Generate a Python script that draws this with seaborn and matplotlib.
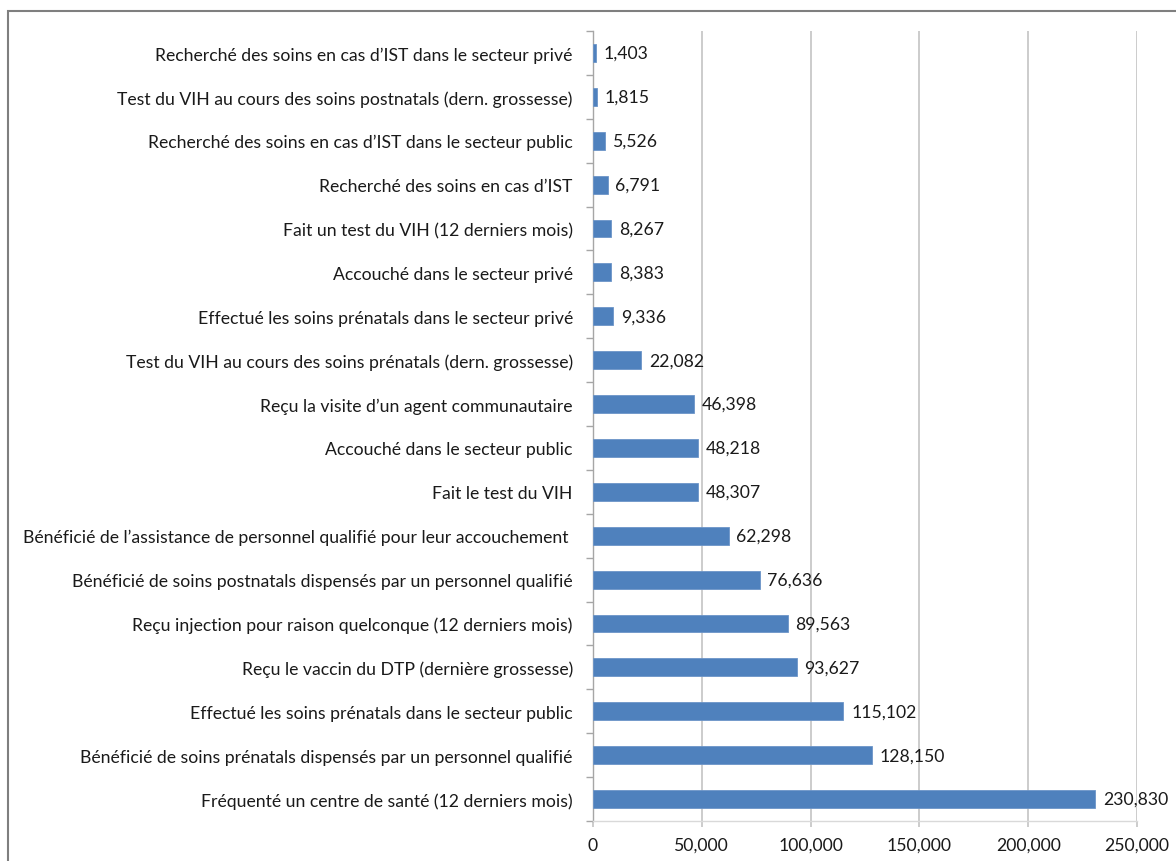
import matplotlib
matplotlib.use("Agg")
import matplotlib.pyplot as plt
from matplotlib.patches import Rectangle
from matplotlib.ticker import FuncFormatter, FixedLocator
import seaborn as sns
import pandas as pd
import numpy as np

categories = [
    "Recherché des soins en cas d’IST dans le secteur privé",
    "Test du VIH au cours des soins postnatals (dern. grossesse)",
    "Recherché des soins en cas d’IST dans le secteur public",
    "Recherché des soins en cas d’IST",
    "Fait un test du VIH (12 derniers mois)",
    "Accouché dans le secteur privé",
    "Effectué les soins prénatals dans le secteur privé",
    "Test du VIH au cours des soins prénatals (dern. grossesse)",
    "Reçu la visite d’un agent communautaire",
    "Accouché dans le secteur public",
    "Fait le test du VIH",
    "Bénéficié de l’assistance de personnel qualifié pour leur accouchement ",
    "Bénéficié de soins postnatals dispensés par un personnel qualifié",
    "Reçu injection pour raison quelconque (12 derniers mois)",
    "Reçu le vaccin du DTP (dernière grossesse)",
    "Effectué les soins prénatals dans le secteur public",
    "Bénéficié de soins prénatals dispensés par un personnel qualifié",
    "Fréquenté un centre de santé (12 derniers mois)",
]
values = [1403, 1815, 5526, 6791, 8267, 8383, 9336, 22082, 46398, 48218,
          48307, 62298, 76636, 89563, 93627, 115102, 128150, 230830]
x_ticks = [0, 50000, 100000, 150000, 200000, 250000]

df = pd.DataFrame({"categorie": categories, "valeur": values})

sns.set_theme(style="white")
plt.rcParams["font.family"] = ["Lato", "DejaVu Sans"]

W, H = 1176, 862
FS = 12.7
fig = plt.figure(figsize=(W / 100, H / 100), dpi=100)
ax = fig.add_axes([593 / W, 1 - 822 / H, (1137 - 593) / W, (822 - 32) / H])

sns.barplot(data=df, x="valeur", y="categorie", orient="h", color="#4F81BD",
            saturation=1, width=0.41, edgecolor="#6C95C8", linewidth=0.6,
            ax=ax, zorder=3)

ax.set_xlim(0, 250000)
ax.set_ylim(len(categories) - 0.5, -0.5)
ax.set_xlabel("")
ax.set_ylabel("")

ax.xaxis.set_major_locator(FixedLocator(x_ticks))
ax.xaxis.set_major_formatter(FuncFormatter(lambda v, p: f"{int(v):,}"))
ax.grid(axis="x", color="#C4C4C4", linewidth=1.2, zorder=0)
ax.grid(axis="y", visible=False)

for side in ["top", "right"]:
    ax.spines[side].set_visible(False)
ax.spines["left"].set_color("#A6A6A6")
ax.spines["bottom"].set_color("#D9D9D9")
ax.spines["left"].set_linewidth(1.0)
ax.spines["bottom"].set_linewidth(1.0)

ax.tick_params(axis="y", which="major", length=0, pad=14.5, labelsize=FS,
               labelcolor="#1A1A1A")
ax.yaxis.set_minor_locator(FixedLocator(np.arange(-0.5, len(categories), 1.0)))
ax.tick_params(axis="y", which="minor", left=True, length=5, color="#A6A6A6", width=1)
ax.tick_params(axis="x", which="major", bottom=True, length=4.5, color="#C4C4C4",
               width=1.2, pad=7, labelsize=FS, labelcolor="#1A1A1A")

for i, v in enumerate(values):
    ax.annotate(f"{v:,}", xy=(v, i), xytext=(5.5, 0), textcoords="offset points",
                va="center", ha="left", fontsize=FS, color="#1A1A1A")

# outer frame of the chart area
frame = Rectangle((8 / W, -0.2), 1.2, 1 - 12 / H + 0.2, transform=fig.transFigure,
                  fill=False, edgecolor="#7F7F7F", linewidth=1.5, clip_on=False)
fig.patches.append(frame)

fig.savefig("out.png", dpi=100)
